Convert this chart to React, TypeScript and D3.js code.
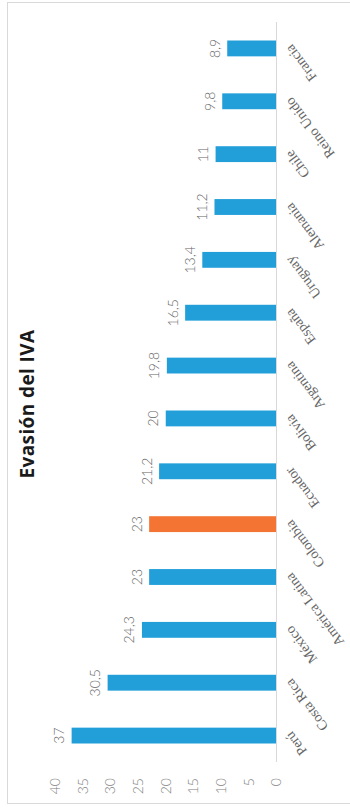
import React from 'react';
import * as d3 from 'd3';

const categories = ['Perú', 'Costa Rica', 'México', 'América Latina', 'Colombia', 'Ecuador', 'Bolivia', 'Argentina', 'España', 'Uruguay', 'Alemania', 'Chile', 'Reino Unido', 'Francia'];
const values = [37, 30.5, 24.3, 23, 23, 21.2, 20, 19.8, 16.5, 13.4, 11.2, 11, 9.8, 8.9];
const highlighted = 'Colombia';
const tickValues = [0, 5, 10, 15, 20, 25, 30, 35, 40];
const title = 'Evasión del IVA';

const W = 350;
const H = 808;

export default function App() {
  const y = d3.scaleBand<string>().domain(categories).range([762, 22]).paddingInner(0.7).paddingOuter(0.35);
  const x = d3.scaleLinear().domain([0, 40]).range([276.5, 55]);
  const fmt = (v: number) => String(v).replace('.', ',');
  const serif = "'Liberation Serif', 'DejaVu Serif', serif";
  const sans = "Lato, 'Open Sans', sans-serif";

  return (
    <svg width={W} height={H} style={{ position: 'absolute', left: 0, top: 0, background: '#fff' }}>
      <rect x={7.5} y={2.5} width={400} height={801} fill="#fff" stroke="#d9d9d9" strokeWidth={1} />
      <text
        transform={`translate(34,404) rotate(-90)`}
        textAnchor="middle"
        fontFamily="'Open Sans', Lato, sans-serif"
        fontWeight={700}
        fontSize={19}
        letterSpacing={0.4}
        fill="#1a1a1a"
      >
        {title}
      </text>
      {categories.map((c, i) => {
        const yc = (y(c) as number) + y.bandwidth() / 2;
        return (
          <g key={c}>
            <rect
              x={x(values[i])}
              y={y(c)}
              width={x(0) - x(values[i])}
              height={y.bandwidth()}
              fill={c === highlighted ? '#F37433' : '#229FD9'}
            />
            <text
              transform={`translate(${x(values[i]) - 7.5},${yc}) rotate(-90)`}
              textAnchor="middle"
              fontFamily={sans}
              fontWeight={300}
              fontSize={14}
              fill="#666666"
            >
              {fmt(values[i])}
            </text>
            <text
              transform={`translate(292,${yc - 5}) rotate(-127)`}
              textAnchor="end"
              fontFamily={serif}
              fontSize={14}
              fill="#666666"
            >
              {c}
            </text>
          </g>
        );
      })}
      <line x1={x(0)} x2={x(0)} y1={22} y2={762} stroke="#d9d9d9" strokeWidth={1} />
      {tickValues.map((t) => (
        <text
          key={t}
          transform={`translate(${x(t)},778) rotate(-90)`}
          textAnchor="end"
          dy="0.35em"
          fontFamily={sans}
          fontWeight={300}
          fontSize={14}
          fill="#808080"
        >
          {t}
        </text>
      ))}
    </svg>
  );
}
